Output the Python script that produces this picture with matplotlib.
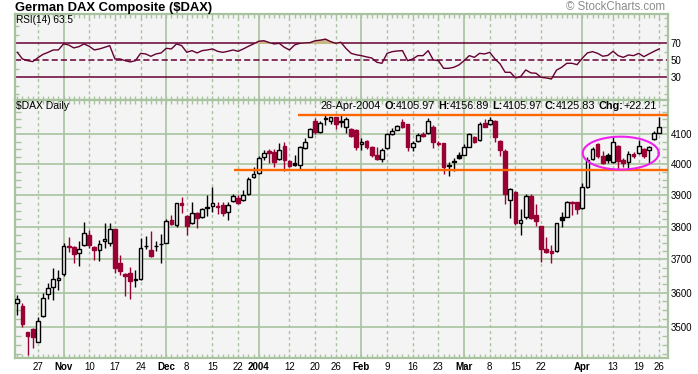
import matplotlib
matplotlib.use("Agg")
import matplotlib.pyplot as plt
import numpy as np
from matplotlib.patches import Rectangle
from matplotlib.ticker import FixedLocator, NullFormatter

plt.rcParams['font.family'] = ['Liberation Sans', 'DejaVu Sans']

# daily candles, 21-Oct-2003 .. 26-Apr-2004
opens = [3570, 3561, 3486, 3495, 3459, 3532, 3598, 3618, 3637, 3657,
         3742, 3737, 3720, 3745, 3776, 3739, 3730, 3756, 3751, 3793,
         3690, 3657, 3660, 3641, 3642, 3742, 3730, 3742, 3748, 3751,
         3821, 3805, 3875, 3833, 3812, 3843, 3830, 3862, 3866, 3866,
         3870, 3848, 3881, 3891, 3884, 3905, 3960, 3972, 4024, 4043,
         4040, 4018, 4062, 4012, 4004, 3997, 4055, 4092, 4145, 4109,
         4155, 4145, 4157, 4144, 4126, 4118, 4115, 4068, 4078, 4056,
         4030, 4019, 4055, 4101, 4115, 4140, 4134, 4056, 4076, 4100,
         4103, 4126, 4072, 4070, 3998, 4010, 4031, 4032, 4059, 4092,
         4081, 4138, 4134, 4145, 4079, 4043, 3884, 3911, 3811, 3830,
         3898, 3838, 3802, 3731, 3725, 3726, 3832, 3832, 3880, 3877,
         3858, 3926, 4018, 4068, 4026, 4032, 4009, 4062, 4016, 4007,
         4035, 4038, 4051, 4048, 4084, 4105.97]
highs = [3594, 3571, 3487, 3497, 3530, 3600, 3628, 3675, 3667, 3749,
         3768, 3740, 3758, 3815, 3789, 3740, 3761, 3812, 3812, 3795,
         3714, 3658, 3677, 3667, 3765, 3771, 3787, 3755, 3778, 3826,
         3836, 3876, 3895, 3836, 3877, 3846, 3861, 3902, 3927, 3877,
         3877, 3877, 3905, 3900, 3916, 3959, 3990, 4027, 4048, 4050,
         4050, 4071, 4073, 4014, 4030, 4060, 4087, 4122, 4155, 4145,
         4165, 4160, 4160, 4165, 4160, 4120, 4117, 4087, 4080, 4062,
         4056, 4055, 4103, 4122, 4130, 4152, 4136, 4076, 4105, 4108,
         4155, 4130, 4078, 4072, 4009, 4022, 4040, 4066, 4103, 4095,
         4140, 4150, 4160, 4148, 4082, 4050, 3924, 3915, 3856, 3905,
         3905, 3871, 3803, 3768, 3744, 3813, 3848, 3883, 3882, 3880,
         3938, 4025, 4058, 4070, 4043, 4038, 4092, 4065, 4020, 4045,
         4042, 4081, 4053, 4062, 4110, 4156.89]
lows = [3535, 3500, 3421, 3440, 3457, 3530, 3582, 3579, 3608, 3649,
        3722, 3689, 3680, 3741, 3734, 3699, 3695, 3736, 3742, 3658,
        3652, 3591, 3581, 3618, 3639, 3732, 3709, 3725, 3689, 3749,
        3805, 3800, 3845, 3774, 3808, 3797, 3828, 3835, 3848, 3840,
        3834, 3821, 3878, 3872, 3882, 3902, 3957, 3969, 4016, 4004,
        3990, 4015, 3978, 3990, 3995, 3983, 4052, 4090, 4100, 4105,
        4131, 4134, 4118, 4126, 4104, 4090, 4048, 4048, 4050, 4025,
        4016, 4008, 4050, 4098, 4113, 4122, 4043, 4043, 4073, 4090,
        4100, 4055, 4062, 3967, 3961, 3978, 4018, 4030, 4057, 4070,
        4079, 4125, 4132, 4075, 4027, 3873, 3827, 3805, 3774, 3826,
        3825, 3803, 3693, 3720, 3690, 3722, 3800, 3830, 3836, 3840,
        3855, 3924, 4015, 4020, 4000, 4006, 4005, 3983, 3993, 3986,
        4020, 4035, 4022, 4006, 4080, 4105.97]
closes = [3581, 3510, 3476, 3471, 3519, 3586, 3613, 3642, 3645, 3742,
          3737, 3717, 3733, 3781, 3745, 3729, 3747, 3764, 3795, 3674,
          3665, 3649, 3635, 3638, 3735, 3741, 3710, 3741, 3747, 3819,
          3810, 3874, 3869, 3802, 3844, 3827, 3856, 3860, 3874, 3862,
          3845, 3870, 3897, 3876, 3902, 3953, 3969, 4021, 4038, 4036,
          4007, 4048, 4016, 3995, 3998, 4057, 4073, 4118, 4107, 4137,
          4150, 4157, 4136, 4142, 4151, 4095, 4059, 4073, 4059, 4030,
          4018, 4048, 4101, 4112, 4128, 4125, 4056, 4070, 4098, 4095,
          4145, 4073, 4068, 3991, 3996, 4008, 4022, 4059, 4101, 4073,
          4135, 4126, 4148, 4090, 4046, 3905, 3919, 3811, 3822, 3898,
          3827, 3818, 3731, 3722, 3720, 3811, 3821, 3880, 3875, 3855,
          3927, 4016, 4051, 4026, 4004, 4016, 4073, 4012, 4006, 4035,
          4026, 4062, 4027, 4058, 4103.62, 4125.83]
rsi = [59.4, 51.6, 49.6, 48.5, 53.0, 57.0, 59.4, 62.2, 62.2, 69.3,
       68.1, 64.6, 66.1, 69.3, 66.5, 62.2, 63.4, 65.3, 67.3, 51.6,
       51.6, 49.6, 48.1, 49.6, 58.2, 57.5, 54.7, 57.5, 58.7, 64.1,
       63.4, 69.3, 67.3, 59.4, 61.4, 58.7, 61.4, 62.2, 63.4, 60.6,
       59.4, 60.6, 62.2, 60.6, 63.4, 66.5, 69.3, 72.4, 73.0, 71.0,
       69.3, 70.0, 65.3, 62.2, 68.1, 70.0, 70.5, 70.8, 73.0, 73.7,
       74.9, 72.0, 70.0, 71.2, 64.0, 58.2, 56.5, 55.5, 54.0, 52.8,
       47.7, 46.5, 58.2, 60.2, 61.0, 61.4, 49.6, 51.6, 55.5, 55.5,
       61.4, 50.4, 49.6, 40.6, 40.6, 41.8, 44.6, 49.6, 55.5, 53.5,
       58.2, 57.5, 59.4, 51.6, 45.8, 35.9, 35.9, 29.3, 30.8, 38.7,
       35.2, 34.8, 30.0, 29.3, 28.1, 38.5, 41.8, 46.5, 46.5, 44.9,
       52.4, 58.7, 60.2, 58.2, 54.8, 55.8, 60.6, 55.5, 53.5, 56.3,
       55.5, 58.2, 54.3, 57.5, 60.6, 63.5]

tick_idx = [4, 9, 14, 19, 24, 29, 33, 38, 43, 47, 53, 58, 62, 67, 72, 77,
            82, 87, 92, 97, 102, 110, 116, 121, 125]
tick_lab = ['27', 'Nov', '10', '17', '24', 'Dec', '8', '15', '22', '2004',
            '12', '20', '26', 'Feb', '9', '16', '23', 'Mar', '8', '15', '22',
            'Apr', '13', '19', '26']
month_idx = [9, 29, 47, 67, 87, 110]
price_ticks = [3500, 3600, 3700, 3800, 3900, 4000, 4100]
rsi_levels = [30, 50, 70]

# hand-drawn annotations
support_level, support_start = 3983, 42.2
resist_level, resist_start = 4167, 54.7
ell_center, ell_halfw, ell_top, ell_bottom = 117.5, 7.4, 4092, 3983

W, H = 698, 374
GRID = '#a9c3a0'
BG = '#f4f4f4'
RED = '#990033'
MAROON = '#660033'

fig = plt.figure(figsize=(W / 100, H / 100), dpi=100, facecolor='white')


def box(x0, y0, x1, y1):
    return [x0 / W, 1 - y1 / H, (x1 - x0) / W, (y1 - y0) / H]


ax_r = fig.add_axes(box(15.3, 14, 668, 99.5), facecolor=BG)
ax = fig.add_axes(box(15.3, 99.5, 668, 358.3), facecolor=BG)

n = len(closes)
x = np.arange(n)
xlim = (-0.39, 126.7)

for a in (ax, ax_r):
    a.set_xlim(*xlim)
    for s in a.spines.values():
        s.set_color(GRID)
        s.set_linewidth(1.6)
    for i in tick_idx:
        if i in month_idx:
            a.axvline(i, color=GRID, lw=1.2, zorder=0)
        else:
            a.axvline(i, color=GRID, lw=1.0, ls=(0, (2.2, 2.2)), zorder=0)
    a.set_xticks(tick_idx)
    a.xaxis.set_minor_locator(FixedLocator(list(range(n))))
    a.tick_params(axis='x', which='both', direction='in', top=True, bottom=True,
                  length=3, width=1, color=GRID)

# ---- RSI panel ----
ax_r.set_ylim(3.9, 104.5)
ax_r.set_xticklabels([])
ax_r.plot(x, rsi, color=MAROON, lw=1, zorder=3)
r = np.array(rsi)
ax_r.fill_between(x, r, 70, where=r > 70, interpolate=True, color='#c8b888', zorder=2)
ax_r.fill_between(x, r, 30, where=r < 30, interpolate=True, color='#c8b888', zorder=2)
for lv in rsi_levels:
    ax_r.axhline(lv, color=MAROON, lw=1.1, ls='-' if lv != 50 else (0, (4, 2)), zorder=1)
ax_r.set_yticks(rsi_levels)
ax_r.set_yticklabels([str(v) for v in rsi_levels])
ax_r.yaxis.set_minor_locator(FixedLocator(list(range(10, 101, 10))))
ax_r.tick_params(axis='y', which='major', length=0, labelleft=False, labelright=True,
                 labelsize=7, pad=2)
ax_r.tick_params(axis='y', which='minor', direction='in', left=True, right=True,
                 length=3, width=1, color=GRID)

# ---- price panel ----
ax.set_yscale('log')
ax.set_ylim(3412, 4218.6)
for p in price_ticks:
    ax.axhline(p, color=GRID, lw=1.2, zorder=0)
ax.yaxis.set_major_locator(FixedLocator(price_ticks))
ax.set_yticklabels([str(p) for p in price_ticks])
ax.yaxis.set_minor_locator(FixedLocator(list(range(3425, 4225, 25))))
ax.yaxis.set_minor_formatter(NullFormatter())
ax.tick_params(axis='y', which='major', length=0, labelleft=False, labelright=True,
               labelsize=7, pad=2)
ax.tick_params(axis='y', which='minor', direction='in', left=True, right=True,
               length=4, width=1, color=GRID)

ax.set_xticklabels(tick_lab)
ax.tick_params(axis='x', which='major', labelsize=7, pad=2.5)
for lab, t in zip(ax.get_xticklabels(), tick_idx):
    if t in month_idx:
        lab.set_fontweight('bold')

for i in range(n):
    o, h, l, c = opens[i], highs[i], lows[i], closes[i]
    prev = closes[i - 1] if i > 0 else c
    col = 'black' if c >= prev else RED
    face = BG if c >= o else col
    ax.vlines(i, l, h, color=col, lw=1, zorder=3)
    ax.add_patch(Rectangle((i - 0.36, min(o, c)), 0.72, max(abs(c - o), 0.5),
                           facecolor=face, edgecolor=col, lw=1, zorder=4))

ax.hlines(support_level, support_start, xlim[1], color='#ff6600', lw=1.7, zorder=5)
ax.hlines(resist_level, resist_start, xlim[1], color='#ff6600', lw=1.7, zorder=5)

t = np.linspace(0, 2 * np.pi, 200)
lc, lh = np.log(np.sqrt(ell_top * ell_bottom)), np.log(ell_top / ell_bottom) / 2
ax.plot(ell_center + ell_halfw * np.cos(t), np.exp(lc + lh * np.sin(t)),
        color='#ee22ee', lw=1.5, zorder=6)

# ---- texts ----
fig.text(15 / W, 1 - 7.5 / H, 'German DAX Composite ($DAX)', fontsize=9.4,
         fontweight='bold', va='center', ha='left')
fig.text(665 / W, 1 - 7.5 / H, '\u00a9 StockCharts.com', fontsize=8.3,
         color='#8c8c8c', va='center', ha='right')
fig.text(16.5 / W, 1 - 20 / H, 'RSI(14) %.1f' % rsi[-1], fontsize=7.2,
         va='center', ha='left')
fig.text(16.5 / W, 1 - 106 / H, '$DAX Daily', fontsize=7.5, va='center', ha='left')

pieces = [('26-Apr-2004', 'normal', 3), ('O:', 'bold', 0), ('%.2f' % opens[-1], 'normal', 3),
          ('H:', 'bold', 0), ('%.2f' % highs[-1], 'normal', 3),
          ('L:', 'bold', 0), ('%.2f' % lows[-1], 'normal', 3),
          ('C:', 'bold', 0), ('%.2f' % closes[-1], 'normal', 3),
          ('Chg:', 'bold', 0), ('%+.2f' % (closes[-1] - closes[-2]), 'normal', 0)]
fig.canvas.draw()
renderer = fig.canvas.get_renderer()
xp = 657.0
for s, wgt, gap in reversed(pieces):
    xp -= gap
    tx = fig.text(xp / W, 1 - 106 / H, s, fontsize=7.8, fontweight=wgt,
                  va='center', ha='right')
    xp -= tx.get_window_extent(renderer).width

fig.savefig('out.png', dpi=100, facecolor='white')
